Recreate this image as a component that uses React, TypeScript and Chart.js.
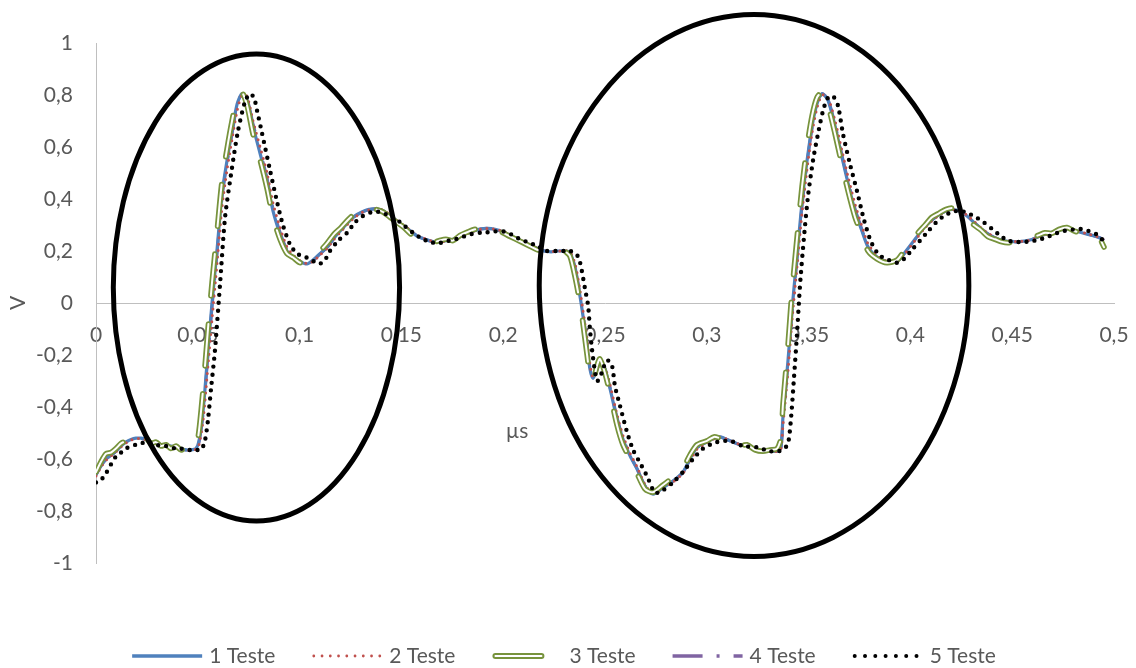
import React, { useEffect, useRef } from 'react';
import { Chart, registerables } from 'chart.js';

Chart.register(...registerables);

// ---------------- Data (time in µs, voltage in V) ----------------
const timeUs = [
  0, 0.0025, 0.0049, 0.0074, 0.0098, 0.0123, 0.0147, 0.0172, 0.0196, 0.0221,
  0.0246, 0.0270, 0.0295, 0.0319, 0.0344, 0.0368, 0.0393, 0.0417, 0.0442, 0.0467,
  0.0491, 0.0506, 0.0526, 0.0550, 0.0570, 0.0594, 0.0619, 0.0643, 0.0668, 0.0693,
  0.0717, 0.0742, 0.0771, 0.0806, 0.0840, 0.0869, 0.0904, 0.0938, 0.0968, 0.1002,
  0.1036, 0.1066, 0.1100, 0.1135, 0.1169, 0.1203, 0.1238, 0.1272, 0.1306, 0.1341,
  0.1375, 0.1410, 0.1444, 0.1478, 0.1513, 0.1547, 0.1582, 0.1616, 0.1650, 0.1685,
  0.1719, 0.1753, 0.1788, 0.1822, 0.1857, 0.1891, 0.1925, 0.1960, 0.1994, 0.2028,
  0.2063, 0.2097, 0.2132, 0.2166, 0.2200, 0.2235, 0.2269, 0.2304, 0.2328, 0.2353,
  0.2377, 0.2392, 0.2412, 0.2426, 0.2441, 0.2461, 0.2475, 0.2500, 0.2525, 0.2559,
  0.2588, 0.2623, 0.2657, 0.2696, 0.2736, 0.2785, 0.2834, 0.2883, 0.2917, 0.2952,
  0.3001, 0.3035, 0.3065, 0.3099, 0.3129, 0.3163, 0.3197, 0.3237, 0.3276, 0.3310,
  0.3345, 0.3364, 0.3374, 0.3399, 0.3418, 0.3443, 0.3468, 0.3492, 0.3517, 0.3541,
  0.3566, 0.3595, 0.3630, 0.3664, 0.3694, 0.3728, 0.3762, 0.3792, 0.3836, 0.3885,
  0.3934, 0.3969, 0.4003, 0.4037, 0.4072, 0.4106, 0.4140, 0.4175, 0.4209, 0.4244,
  0.4278, 0.4312, 0.4347, 0.4381, 0.4416, 0.4450, 0.4484, 0.4524, 0.4558, 0.4592,
  0.4627, 0.4661, 0.4695, 0.4730, 0.4769, 0.4804, 0.4833, 0.4867, 0.4902, 0.4931,
  0.4951,
];

const teste1 = [
  -0.66, -0.625, -0.6, -0.585, -0.57, -0.55, -0.535, -0.525, -0.52, -0.52,
  -0.525, -0.535, -0.54, -0.545, -0.55, -0.55, -0.555, -0.56, -0.565, -0.565,
  -0.56, -0.53, -0.415, -0.185, 0.0, 0.2, 0.42, 0.545, 0.66, 0.765,
  0.805, 0.78, 0.68, 0.575, 0.47, 0.355, 0.265, 0.2, 0.177, 0.16,
  0.15, 0.165, 0.19, 0.215, 0.25, 0.28, 0.31, 0.335, 0.35, 0.36,
  0.362, 0.355, 0.335, 0.315, 0.295, 0.275, 0.255, 0.245, 0.237, 0.235,
  0.24, 0.245, 0.255, 0.27, 0.278, 0.285, 0.287, 0.283, 0.275, 0.262,
  0.25, 0.235, 0.222, 0.21, 0.2, 0.197, 0.2, 0.2, 0.195, 0.13,
  0.027, -0.05, -0.165, -0.254, -0.29, -0.254, -0.22, -0.254, -0.33, -0.446,
  -0.523, -0.588, -0.638, -0.704, -0.735, -0.71, -0.685, -0.65, -0.6, -0.555,
  -0.535, -0.52, -0.515, -0.525, -0.535, -0.545, -0.55, -0.56, -0.57, -0.57,
  -0.57, -0.555, -0.44, -0.22, -0.03, 0.18, 0.39, 0.545, 0.68, 0.765,
  0.805, 0.78, 0.68, 0.56, 0.46, 0.355, 0.277, 0.215, 0.177, 0.158,
  0.16, 0.19, 0.225, 0.26, 0.295, 0.32, 0.34, 0.355, 0.36, 0.352,
  0.335, 0.31, 0.285, 0.265, 0.25, 0.24, 0.237, 0.235, 0.238, 0.243,
  0.255, 0.265, 0.272, 0.28, 0.285, 0.28, 0.272, 0.265, 0.258, 0.25,
  0.24,
];

const teste2 = [
  -0.665, -0.63, -0.605, -0.588, -0.572, -0.553, -0.538, -0.527, -0.522, -0.521,
  -0.526, -0.534, -0.541, -0.547, -0.551, -0.552, -0.556, -0.561, -0.566, -0.567,
  -0.562, -0.545, -0.45, -0.24, -0.06, 0.15, 0.37, 0.51, 0.63, 0.74,
  0.8, 0.795, 0.7, 0.6, 0.5, 0.385, 0.29, 0.215, 0.185, 0.163,
  0.152, 0.16, 0.185, 0.21, 0.245, 0.275, 0.305, 0.33, 0.348, 0.358,
  0.362, 0.357, 0.34, 0.318, 0.298, 0.278, 0.258, 0.247, 0.238, 0.236,
  0.238, 0.244, 0.253, 0.267, 0.277, 0.284, 0.287, 0.284, 0.277, 0.265,
  0.252, 0.238, 0.224, 0.212, 0.202, 0.198, 0.2, 0.201, 0.197, 0.15,
  0.05, -0.03, -0.14, -0.235, -0.285, -0.26, -0.225, -0.25, -0.315, -0.43,
  -0.51, -0.578, -0.63, -0.698, -0.733, -0.715, -0.688, -0.655, -0.61, -0.562,
  -0.538, -0.522, -0.516, -0.524, -0.534, -0.544, -0.551, -0.561, -0.569, -0.571,
  -0.571, -0.56, -0.47, -0.26, -0.07, 0.14, 0.35, 0.515, 0.655, 0.75,
  0.8, 0.79, 0.7, 0.585, 0.485, 0.38, 0.295, 0.228, 0.183, 0.16,
  0.158, 0.185, 0.22, 0.255, 0.29, 0.317, 0.338, 0.353, 0.36, 0.354,
  0.338, 0.314, 0.289, 0.268, 0.252, 0.242, 0.238, 0.236, 0.238, 0.242,
  0.253, 0.263, 0.271, 0.279, 0.284, 0.281, 0.274, 0.267, 0.259, 0.252,
  0.243,
];

const teste3 = [
  -0.65, -0.61, -0.58, -0.575, -0.56, -0.54, -0.53, -0.515, -0.51, -0.525,
  -0.52, -0.54, -0.535, -0.55, -0.545, -0.56, -0.55, -0.565, -0.56, -0.57,
  -0.555, -0.49, -0.33, -0.1, 0.08, 0.27, 0.47, 0.59, 0.7, 0.79,
  0.81, 0.76, 0.65, 0.55, 0.44, 0.33, 0.245, 0.19, 0.175, 0.155,
  0.16, 0.175, 0.2, 0.23, 0.265, 0.29, 0.32, 0.345, 0.355, 0.365,
  0.36, 0.35, 0.33, 0.31, 0.29, 0.265, 0.25, 0.24, 0.232, 0.24,
  0.245, 0.24, 0.26, 0.272, 0.283, 0.285, 0.29, 0.28, 0.272, 0.258,
  0.245, 0.232, 0.218, 0.205, 0.2, 0.193, 0.205, 0.198, 0.18, 0.1,
  0.0, -0.08, -0.2, -0.28, -0.3, -0.24, -0.215, -0.27, -0.35, -0.47,
  -0.545, -0.6, -0.655, -0.715, -0.728, -0.7, -0.67, -0.635, -0.585, -0.545,
  -0.53, -0.515, -0.52, -0.53, -0.54, -0.55, -0.545, -0.565, -0.57, -0.565,
  -0.56, -0.52, -0.39, -0.16, 0.04, 0.25, 0.45, 0.6, 0.72, 0.79,
  0.81, 0.76, 0.65, 0.53, 0.43, 0.33, 0.26, 0.2, 0.17, 0.155,
  0.165, 0.2, 0.235, 0.27, 0.3, 0.33, 0.345, 0.36, 0.365, 0.345,
  0.325, 0.3, 0.28, 0.255, 0.245, 0.235, 0.232, 0.24, 0.245, 0.25,
  0.26, 0.27, 0.268, 0.283, 0.29, 0.277, 0.27, 0.26, 0.255, 0.245,
  0.215,
];

const teste4 = [
  -0.662, -0.627, -0.602, -0.586, -0.571, -0.551, -0.536, -0.526, -0.521, -0.521,
  -0.526, -0.535, -0.541, -0.546, -0.55, -0.551, -0.556, -0.56, -0.565, -0.566,
  -0.561, -0.535, -0.425, -0.2, -0.015, 0.185, 0.405, 0.535, 0.65, 0.76,
  0.805, 0.785, 0.69, 0.585, 0.48, 0.365, 0.272, 0.205, 0.18, 0.161,
  0.151, 0.163, 0.188, 0.213, 0.248, 0.278, 0.308, 0.333, 0.349, 0.359,
  0.362, 0.356, 0.337, 0.316, 0.296, 0.276, 0.256, 0.246, 0.237, 0.235,
  0.239, 0.245, 0.254, 0.269, 0.278, 0.285, 0.287, 0.283, 0.276, 0.263,
  0.251, 0.236, 0.223, 0.211, 0.201, 0.197, 0.2, 0.2, 0.196, 0.138,
  0.035, -0.043, -0.157, -0.248, -0.288, -0.256, -0.222, -0.253, -0.325, -0.441,
  -0.519, -0.585, -0.636, -0.702, -0.734, -0.712, -0.686, -0.652, -0.603, -0.557,
  -0.536, -0.521, -0.515, -0.525, -0.535, -0.545, -0.55, -0.56, -0.57, -0.57,
  -0.57, -0.557, -0.45, -0.235, -0.045, 0.165, 0.375, 0.535, 0.672, 0.76,
  0.805, 0.783, 0.687, 0.568, 0.468, 0.363, 0.283, 0.219, 0.179, 0.159,
  0.159, 0.188, 0.223, 0.258, 0.293, 0.319, 0.339, 0.354, 0.36, 0.353,
  0.336, 0.311, 0.286, 0.266, 0.251, 0.241, 0.237, 0.235, 0.238, 0.243,
  0.254, 0.264, 0.272, 0.28, 0.285, 0.28, 0.273, 0.266, 0.258, 0.251,
  0.241,
];

const timeUs5 = [
  0, 0.0025, 0.0049, 0.0074, 0.0098, 0.0123, 0.0147, 0.0172, 0.0196, 0.0221,
  0.0246, 0.0270, 0.0295, 0.0319, 0.0344, 0.0368, 0.0393, 0.0417, 0.0442, 0.0467,
  0.0491, 0.0516, 0.0535, 0.0550, 0.0565, 0.0584, 0.0609, 0.0634, 0.0668, 0.0697,
  0.0732, 0.0756, 0.0776, 0.0791, 0.0815, 0.0855, 0.0889, 0.0918, 0.0953, 0.0987,
  0.1026, 0.1061, 0.1090, 0.1120, 0.1149, 0.1189, 0.1233, 0.1272, 0.1311, 0.1356,
  0.1395, 0.1434, 0.1478, 0.1518, 0.1557, 0.1596, 0.1640, 0.1680, 0.1724, 0.1763,
  0.1803, 0.1842, 0.1886, 0.1920, 0.1955, 0.1984, 0.2019, 0.2048, 0.2083, 0.2117,
  0.2166, 0.2215, 0.2264, 0.2304, 0.2328, 0.2358, 0.2377, 0.2402, 0.2417, 0.2426,
  0.2436, 0.2451, 0.2461, 0.2475, 0.2485, 0.2510, 0.2534, 0.2549, 0.2574, 0.2608,
  0.2638, 0.2672, 0.2706, 0.2746, 0.2785, 0.2834, 0.2883, 0.2932, 0.2981, 0.3016,
  0.3050, 0.3114, 0.3178, 0.3247, 0.3310, 0.3350, 0.3374, 0.3399, 0.3414, 0.3428,
  0.3443, 0.3458, 0.3477, 0.3497, 0.3522, 0.3546, 0.3571, 0.3595, 0.3620, 0.3644,
  0.3669, 0.3703, 0.3738, 0.3772, 0.3807, 0.3846, 0.3895, 0.3934, 0.3969, 0.4008,
  0.4047, 0.4086, 0.4126, 0.4165, 0.4204, 0.4244, 0.4283, 0.4322, 0.4361, 0.4401,
  0.4440, 0.4479, 0.4519, 0.4558, 0.4597, 0.4637, 0.4676, 0.4715, 0.4754, 0.4794,
  0.4833, 0.4872, 0.4912, 0.4941,
];

const teste5 = [
  -0.69, -0.68, -0.655, -0.62, -0.59, -0.575, -0.56, -0.55, -0.545, -0.54,
  -0.535, -0.54, -0.545, -0.55, -0.55, -0.555, -0.56, -0.56, -0.565, -0.565,
  -0.565, -0.565, -0.53, -0.45, -0.33, -0.185, 0.07, 0.33, 0.52, 0.66,
  0.775, 0.805, 0.79, 0.74, 0.655, 0.51, 0.39, 0.3, 0.225, 0.19,
  0.178, 0.165, 0.15, 0.16, 0.2, 0.24, 0.27, 0.31, 0.335, 0.35,
  0.35, 0.338, 0.32, 0.295, 0.27, 0.25, 0.235, 0.23, 0.238, 0.245,
  0.255, 0.265, 0.27, 0.272, 0.275, 0.277, 0.272, 0.26, 0.245, 0.235,
  0.22, 0.2, 0.2, 0.2, 0.2, 0.19, 0.158, 0.054, -0.01, -0.1,
  -0.177, -0.265, -0.3, -0.29, -0.265, -0.22, -0.24, -0.32, -0.396, -0.496,
  -0.565, -0.615, -0.665, -0.73, -0.72, -0.69, -0.65, -0.6, -0.56, -0.545,
  -0.535, -0.53, -0.55, -0.555, -0.57, -0.57, -0.565, -0.54, -0.44, -0.29,
  -0.12, 0.07, 0.25, 0.41, 0.55, 0.65, 0.74, 0.79, 0.795, 0.76,
  0.65, 0.535, 0.43, 0.32, 0.235, 0.185, 0.165, 0.155, 0.17, 0.205,
  0.24, 0.275, 0.31, 0.335, 0.35, 0.355, 0.345, 0.33, 0.31, 0.285,
  0.26, 0.24, 0.235, 0.235, 0.238, 0.245, 0.255, 0.268, 0.277, 0.282,
  0.285, 0.278, 0.265, 0.245,
];

const seriesNames = ['1 Teste', '2 Teste', '3 Teste', '4 Teste', '5 Teste'];

// Annotation ellipses, expressed in data units (µs, V)
const ellipseCenterX = [0.0788, 0.3232];
const ellipseCenterY = [0.0596, 0.0673];
const ellipseRadiusX = [0.0703, 0.1055];
const ellipseRadiusY = [0.898, 1.042];

// Axis titles
const yAxisTitle = 'V';
const xAxisTitle = 'µs';
const xAxisTitleAt = [0.2068, -0.492];

// ---------------- Styles ----------------
const FONT = 'Lato, "Noto Sans", sans-serif';
const FONT_SIZE = 21;
const TEXT_COLOR = '#595959';
const AXIS_COLOR = '#BFBFBF';
const BLUE = '#4F81BD';
const RED = '#C0504D';
const GREEN = '#77933C';
const PURPLE = '#8064A2';
const BLACK = '#000000';

const fmt = (v: number) => String(Math.round(Number(v) * 100) / 100).replace('.', ',');

const toPoints = (xs: number[], ys: number[]) => xs.map((x, i) => ({ x, y: ys[i] }));

function drawLegendSample(ctx: CanvasRenderingContext2D, i: number, x: number, y: number, w: number) {
  ctx.save();
  ctx.beginPath();
  if (i === 0) {
    ctx.strokeStyle = BLUE;
    ctx.lineWidth = 3.5;
    ctx.lineCap = 'butt';
    ctx.moveTo(x, y);
    ctx.lineTo(x + w, y);
    ctx.stroke();
  } else if (i === 1) {
    ctx.strokeStyle = RED;
    ctx.lineWidth = 2.8;
    ctx.lineCap = 'round';
    ctx.setLineDash([0, 8.25]);
    ctx.moveTo(x + 1.5, y);
    ctx.lineTo(x + w, y);
    ctx.stroke();
  } else if (i === 2) {
    ctx.lineCap = 'round';
    ctx.setLineDash([46, 40]);
    ctx.strokeStyle = GREEN;
    ctx.lineWidth = 6;
    ctx.moveTo(x + 3, y);
    ctx.lineTo(x + w, y);
    ctx.stroke();
    ctx.beginPath();
    ctx.strokeStyle = '#FFFFFF';
    ctx.lineWidth = 2;
    ctx.moveTo(x + 3, y);
    ctx.lineTo(x + w, y);
    ctx.stroke();
  } else if (i === 3) {
    ctx.strokeStyle = PURPLE;
    ctx.lineWidth = 3.5;
    ctx.lineCap = 'butt';
    ctx.setLineDash([30, 14, 3, 14]);
    ctx.moveTo(x, y);
    ctx.lineTo(x + w, y);
    ctx.stroke();
  } else {
    ctx.strokeStyle = BLACK;
    ctx.lineWidth = 4;
    ctx.lineCap = 'round';
    ctx.setLineDash([0, 10.3]);
    ctx.moveTo(x + 2, y);
    ctx.lineTo(x + w, y);
    ctx.stroke();
  }
  ctx.restore();
}

const legendPlugin = {
  id: 'excelLegend',
  afterDraw(chart: any) {
    const ctx: CanvasRenderingContext2D = chart.ctx;
    const y = chart.height - 12;
    const sample = 70;
    const gapText = 7;
    const gapItem = 37;
    ctx.save();
    ctx.font = `${FONT_SIZE}px ${FONT}`;
    const widths = seriesNames.map((n) => sample + gapText + ctx.measureText(n).width);
    const total = widths.reduce((a, b) => a + b, 0) + gapItem * (widths.length - 1);
    let x = (chart.width - total) / 2 - 4;
    seriesNames.forEach((name, i) => {
      drawLegendSample(ctx, i, x, y, sample);
      ctx.fillStyle = TEXT_COLOR;
      ctx.textAlign = 'left';
      ctx.textBaseline = 'middle';
      ctx.fillText(name, x + sample + gapText, y);
      x += widths[i] + gapItem;
    });
    ctx.restore();
  },
};

const ellipsePlugin = {
  id: 'ellipses',
  afterDraw(chart: any) {
    const ctx: CanvasRenderingContext2D = chart.ctx;
    const xs = chart.scales.x;
    const ys = chart.scales.y;
    ctx.save();
    ctx.strokeStyle = '#000000';
    ctx.lineWidth = 5;
    ellipseCenterX.forEach((cxv, i) => {
      const cx = xs.getPixelForValue(cxv);
      const cy = ys.getPixelForValue(ellipseCenterY[i]);
      const rx = Math.abs(xs.getPixelForValue(cxv + ellipseRadiusX[i]) - cx);
      const ry = Math.abs(ys.getPixelForValue(ellipseCenterY[i] + ellipseRadiusY[i]) - cy);
      ctx.beginPath();
      ctx.ellipse(cx, cy, rx, ry, 0, 0, Math.PI * 2);
      ctx.stroke();
    });
    ctx.restore();
  },
};

const xTitlePlugin = {
  id: 'xTitle',
  afterDatasetsDraw(chart: any) {
    const ctx: CanvasRenderingContext2D = chart.ctx;
    const px = chart.scales.x.getPixelForValue(xAxisTitleAt[0]);
    const py = chart.scales.y.getPixelForValue(xAxisTitleAt[1]);
    ctx.save();
    ctx.font = `${FONT_SIZE}px ${FONT}`;
    ctx.fillStyle = TEXT_COLOR;
    ctx.textAlign = 'center';
    ctx.textBaseline = 'middle';
    ctx.fillText(xAxisTitle, px, py);
    ctx.restore();
  },
};

export default function App() {
  const canvasRef = useRef<HTMLCanvasElement | null>(null);

  useEffect(() => {
    if (!canvasRef.current) return;
    const tickFont = { family: FONT, size: FONT_SIZE };
    const chart = new Chart(canvasRef.current, {
      type: 'line',
      data: {
        datasets: [
          {
            label: seriesNames[0],
            data: toPoints(timeUs, teste1),
            borderColor: BLUE,
            borderWidth: 3.2,
            pointRadius: 0,
            tension: 0.25,
            fill: false,
            order: 5,
          },
          {
            label: seriesNames[1],
            data: toPoints(timeUs, teste2),
            borderColor: RED,
            borderWidth: 3,
            borderDash: [0, 6.5],
            borderCapStyle: 'round',
            pointRadius: 0,
            tension: 0.25,
            fill: false,
            order: 4,
          },
          {
            label: seriesNames[2],
            data: toPoints(timeUs, teste3),
            borderColor: GREEN,
            borderWidth: 5.5,
            borderDash: [42, 28],
            borderCapStyle: 'round',
            borderJoinStyle: 'round',
            pointRadius: 0,
            tension: 0.25,
            fill: false,
            order: 3,
          },
          {
            label: seriesNames[2] + ' core',
            data: toPoints(timeUs, teste3),
            borderColor: '#FFFFFF',
            borderWidth: 2,
            borderDash: [42, 28],
            borderCapStyle: 'round',
            borderJoinStyle: 'round',
            pointRadius: 0,
            tension: 0.25,
            fill: false,
            order: 2,
          },
          {
            label: seriesNames[3],
            data: toPoints(timeUs, teste4),
            borderColor: PURPLE,
            borderWidth: 3,
            borderDash: [30, 14, 3, 14],
            pointRadius: 0,
            tension: 0.25,
            fill: false,
            order: 6,
          },
          {
            label: seriesNames[4],
            data: toPoints(timeUs5, teste5),
            borderColor: BLACK,
            borderWidth: 4.4,
            borderDash: [0, 8],
            borderCapStyle: 'round',
            pointRadius: 0,
            tension: 0.25,
            fill: false,
            order: 1,
          },
        ],
      },
      options: {
        responsive: false,
        animation: false,
        devicePixelRatio: 1,
        events: [],
        layout: { padding: { top: 43, right: 22, bottom: 105, left: 0 } },
        plugins: {
          legend: { display: false },
          tooltip: { enabled: false },
        },
        scales: {
          x: {
            type: 'linear',
            min: 0,
            max: 0.5,
            position: { y: 0 },
            grid: { display: false, drawTicks: false },
            border: { display: true, color: AXIS_COLOR, width: 1 },
            ticks: {
              stepSize: 0.05,
              autoSkip: false,
              maxRotation: 0,
              padding: 20,
              color: TEXT_COLOR,
              font: tickFont,
              callback: (v: any) => fmt(v),
            },
            afterFit: (s: any) => {
              s.paddingLeft = 0;
              s.paddingRight = 0;
            },
          },
          y: {
            type: 'linear',
            min: -1,
            max: 1,
            position: 'left',
            grid: { display: false, drawTicks: false },
            border: { display: true, color: AXIS_COLOR, width: 1 },
            ticks: {
              stepSize: 0.2,
              padding: 23,
              color: TEXT_COLOR,
              font: tickFont,
              callback: (v: any) => fmt(v),
            },
            title: {
              display: true,
              text: yAxisTitle,
              color: TEXT_COLOR,
              font: tickFont,
              padding: { top: 6, bottom: 0 },
            },
            afterFit: (s: any) => {
              s.width = 96;
            },
          },
        },
      } as any,
      plugins: [xTitlePlugin, ellipsePlugin, legendPlugin],
    });
    return () => chart.destroy();
  }, []);

  return (
    <div style={{ position: 'fixed', left: 0, top: 0, width: 1136, height: 668, background: '#fff' }}>
      <canvas ref={canvasRef} width={1136} height={668} style={{ display: 'block', width: 1136, height: 668 }} />
    </div>
  );
}
